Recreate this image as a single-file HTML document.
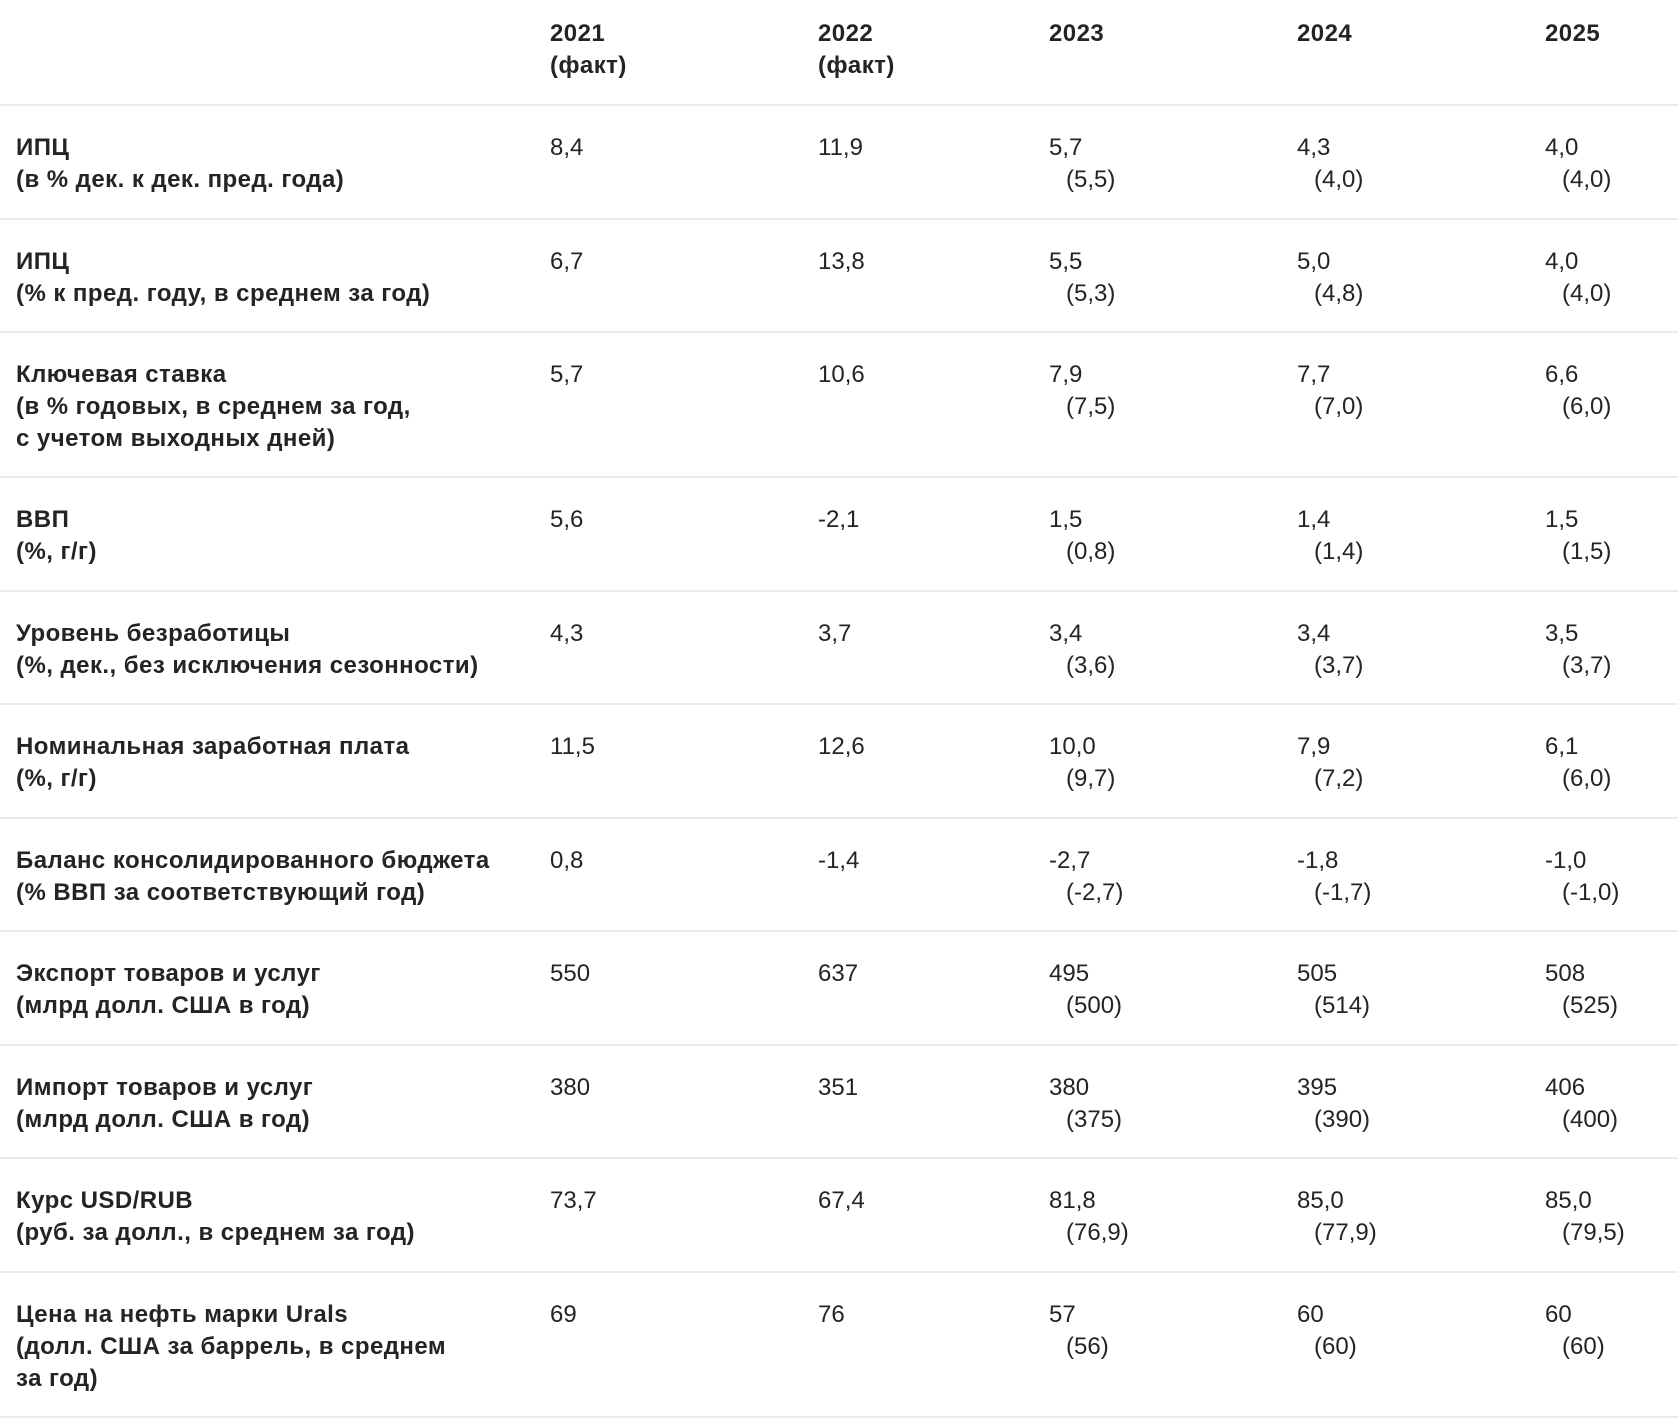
<!DOCTYPE html>
<html><head><meta charset="utf-8"><style>
body{margin:0;width:1678px;height:1416px;background:#fff;position:relative;overflow:hidden;font-family:"Liberation Sans","Noto Sans CJK SC",sans-serif;color:#242424;}
.t{position:absolute;font-size:24px;line-height:32px;white-space:nowrap;}
.b{font-weight:bold;letter-spacing:0.45px;}
.h{position:absolute;left:0;width:1678px;height:2px;background:#ebebeb;}
.s{padding-left:17px;}
</style></head><body>
<div class="t b" style="left:550px;top:18px">2021<br>(факт)</div>
<div class="t b" style="left:818px;top:18px">2022<br>(факт)</div>
<div class="t b" style="left:1049px;top:18px">2023</div>
<div class="t b" style="left:1297px;top:18px">2024</div>
<div class="t b" style="left:1545px;top:18px">2025</div>
<div class="h" style="top:104px"></div>

<div id="rows"></div>
<script>
var rows=[
["ИПЦ<br>(в % дек. к дек. пред. года)","8,4","11,9","5,7","(5,5)","4,3","(4,0)","4,0","(4,0)",2],
["ИПЦ<br>(% к пред. году, в среднем за год)","6,7","13,8","5,5","(5,3)","5,0","(4,8)","4,0","(4,0)",2],
["Ключевая ставка<br>(в % годовых, в среднем за год,<br>с учетом выходных дней)","5,7","10,6","7,9","(7,5)","7,7","(7,0)","6,6","(6,0)",3],
["ВВП<br>(%, г/г)","5,6","-2,1","1,5","(0,8)","1,4","(1,4)","1,5","(1,5)",2],
["Уровень безработицы<br>(%, дек., без исключения сезонности)","4,3","3,7","3,4","(3,6)","3,4","(3,7)","3,5","(3,7)",2],
["Номинальная заработная плата<br>(%, г/г)","11,5","12,6","10,0","(9,7)","7,9","(7,2)","6,1","(6,0)",2],
["Баланс консолидированного бюджета<br>(% ВВП за соответствующий год)","0,8","-1,4","-2,7","(-2,7)","-1,8","(-1,7)","-1,0","(-1,0)",2],
["Экспорт товаров и услуг<br>(млрд долл. США в год)","550","637","495","(500)","505","(514)","508","(525)",2],
["Импорт товаров и услуг<br>(млрд долл. США в год)","380","351","380","(375)","395","(390)","406","(400)",2],
["Курс USD/RUB<br>(руб. за долл., в среднем за год)","73,7","67,4","81,8","(76,9)","85,0","(77,9)","85,0","(79,5)",2],
["Цена на нефть марки Urals<br>(долл. США за баррель, в среднем<br>за год)","69","76","57","(56)","60","(60)","60","(60)",3]
];
var y=105,h='';
rows.forEach(function(r){
 var t=y+27;
 h+='<div class="t b" style="left:16px;top:'+t+'px">'+r[0]+'</div>';
 h+='<div class="t" style="left:550px;top:'+t+'px">'+r[1]+'</div>';
 h+='<div class="t" style="left:818px;top:'+t+'px">'+r[2]+'</div>';
 h+='<div class="t" style="left:1049px;top:'+t+'px">'+r[3]+'<br><span class="s">'+r[4]+'</span></div>';
 h+='<div class="t" style="left:1297px;top:'+t+'px">'+r[5]+'<br><span class="s">'+r[6]+'</span></div>';
 h+='<div class="t" style="left:1545px;top:'+t+'px">'+r[7]+'<br><span class="s">'+r[8]+'</span></div>';
 y+= r[9]==3?145:113.5;
 h+='<div class="h" style="top:'+Math.round(y-1)+'px"></div>';
});
document.getElementById('rows').innerHTML=h;
</script>
</body></html>
